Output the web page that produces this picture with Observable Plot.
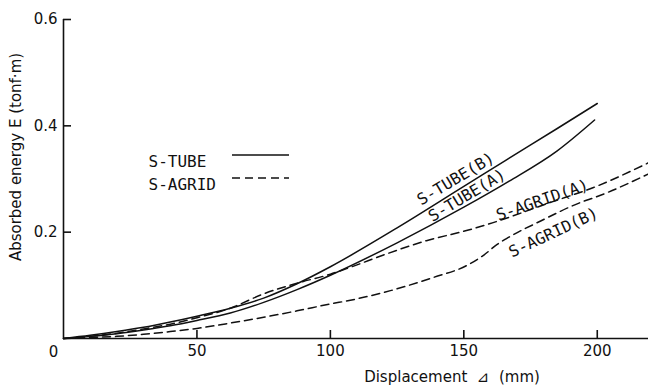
<!DOCTYPE html>
<html><head><meta charset="utf-8">
<script src="https://cdn.jsdelivr.net/npm/d3@7"></script>
<script src="https://cdn.jsdelivr.net/npm/@observablehq/plot@0.6"></script>
<style>body{margin:0;background:#fff}</style>
</head><body><div id="chart"></div>
<script>
// ---- data ----
const tubeB_x = [0, 10, 20, 30, 40, 50, 62.5, 75, 87.5, 100, 125, 150, 166, 185, 200];
const tubeB_y = [0, 0.006, 0.013, 0.021, 0.031, 0.042, 0.057, 0.076, 0.103, 0.135, 0.208, 0.286, 0.336, 0.395, 0.442];

const tubeA_x = [0, 10, 20, 30, 40, 50, 62.5, 75, 87.5, 100, 125, 150, 167, 185, 199];
const tubeA_y = [0, 0.004, 0.009, 0.016, 0.024, 0.034, 0.048, 0.068, 0.092, 0.119, 0.18, 0.247, 0.296, 0.353, 0.411];

const agridA_x = [0, 10, 20, 30, 40, 50, 62.5, 75, 87.5, 100, 107.5, 121, 136, 151, 161, 182.5, 198.6, 219];
const agridA_y = [0, 0.004, 0.01, 0.018, 0.027, 0.039, 0.057, 0.084, 0.104, 0.121, 0.134, 0.159, 0.184, 0.203, 0.218, 0.256, 0.284, 0.33];

const agridB_x = [0, 10, 20, 30, 40, 50, 62.5, 75, 87.5, 100, 107.5, 122.5, 138.7, 151, 157.5, 162.5, 166, 178.8, 193.8, 200, 219];
const agridB_y = [0, 0.002, 0.004, 0.008, 0.013, 0.019, 0.029, 0.04, 0.052, 0.065, 0.072, 0.09, 0.115, 0.137, 0.157, 0.177, 0.188, 0.221, 0.256, 0.267, 0.309];

const xTicks = [50, 100, 150, 200];
const yTicks = [0.2, 0.4, 0.6];
const originLabel = ["0"];

const xTitle = "Displacement  ⊿  (mm)";
const yTitle = "Absorbed energy E (tonf·m)";

const labelNames = ["S-TUBE(B)", "S-TUBE(A)", "S-AGRID(A)", "S-AGRID(B)"];
const labelX = [147.0, 151.2, 179.4, 183.6];
const labelY = [0.300, 0.269, 0.260, 0.199];
const labelAngle = [-31, -31, -19, -25];

const legendNames = ["S-TUBE", "S-AGRID"];
const legendDash = [null, "8,5"];

// ---- build tables ----
const toRows = (xs, ys, series) => xs.map((x, i) => ({x, y: ys[i], series}));
const solid = [...toRows(tubeB_x, tubeB_y, "S-TUBE(B)"), ...toRows(tubeA_x, tubeA_y, "S-TUBE(A)")];
const dashed = [...toRows(agridA_x, agridA_y, "S-AGRID(A)"), ...toRows(agridB_x, agridB_y, "S-AGRID(B)")];
const curveLabels = labelNames.map((name, i) => ({name, x: labelX[i], y: labelY[i], angle: labelAngle[i]}));
const legendItems = legendNames.map((name, i) => ({name, dash: legendDash[i], row: i}));

const ink = "#111";
const W = 648, H = 390, ML = 63, MR = 0, MT = 19, MB = 52;
const xDomain = [0, 219.2], yDomain = [0, 0.6];
const TICK_PX = 8;
// tick length converted from pixels to data units of each scale
const tickLenY = TICK_PX * (yDomain[1] - yDomain[0]) / (H - MT - MB);
const tickLenX = TICK_PX * (xDomain[1] - xDomain[0]) / (W - ML - MR);

function legendLines(index, scales, values, dims) {
  const g = d3.create("svg:g");
  legendItems.forEach((it) => {
    const y = dims.marginTop + 136 + it.row * 23;
    const ln = g.append("line")
      .attr("x1", dims.marginLeft + 169).attr("x2", dims.marginLeft + 226)
      .attr("y1", y).attr("y2", y)
      .attr("stroke", ink).attr("stroke-width", 1.5);
    if (it.dash) ln.attr("stroke-dasharray", it.dash);
  });
  return g.node();
}

const chart = Plot.plot({
  width: W, height: H,
  marginLeft: ML, marginRight: MR, marginTop: MT, marginBottom: MB,
  style: {fontFamily: "DejaVu Sans", fontSize: "15px", color: ink, background: "#fff"},
  x: {domain: xDomain},
  y: {domain: yDomain},
  marks: [
    Plot.axisX(xTicks, {tickSize: 0, tickPadding: 7, label: null, fontSize: 15}),
    Plot.axisY(yTicks, {tickSize: 0, tickPadding: 6, label: null, fontSize: 15, tickFormat: d => d.toFixed(1)}),
    Plot.ruleY([0], {stroke: ink, strokeWidth: 1.6}),
    Plot.ruleX([0], {stroke: ink, strokeWidth: 1.6}),
    Plot.ruleX(xTicks, {x: d => d, y1: () => yDomain[0], y2: () => yDomain[0] + tickLenY, stroke: ink, strokeWidth: 1.6}),
    Plot.ruleY(yTicks, {y: d => d, x1: () => xDomain[0], x2: () => xDomain[0] + tickLenX, stroke: ink, strokeWidth: 1.6}),
    Plot.text(originLabel, {x: () => 0, y: () => 0, text: d => d, dx: -10, dy: 14, fontSize: 15}),
    Plot.line(solid, {x: "x", y: "y", z: "series", stroke: ink, strokeWidth: 1.5, curve: "monotone-x"}),
    Plot.line(dashed, {x: "x", y: "y", z: "series", stroke: ink, strokeWidth: 1.5, strokeDasharray: "8,5", curve: "monotone-x"}),
    Plot.text(curveLabels, {x: "x", y: "y", text: "name", rotate: "angle", fontFamily: "DejaVu Sans Mono", fontSize: 16}),
    Plot.text(legendItems.filter(d => d.row === 0), {frameAnchor: "top-left", text: "name", textAnchor: "start", dx: 85, dy: 136, fontFamily: "DejaVu Sans Mono", fontSize: 16}),
    Plot.text(legendItems.filter(d => d.row === 1), {frameAnchor: "top-left", text: "name", textAnchor: "start", dx: 85, dy: 159, fontFamily: "DejaVu Sans Mono", fontSize: 16}),
    legendLines,
    Plot.text([yTitle], {frameAnchor: "left", text: d => d, rotate: -90, textAnchor: "middle", lineAnchor: "middle", dx: -47, dy: -22, fontSize: 15}),
    Plot.text([xTitle], {frameAnchor: "bottom", text: d => d, textAnchor: "middle", lineAnchor: "middle", dx: 96, dy: 39, fontSize: 15})
  ]
});
document.getElementById("chart").appendChild(chart);
</script>
</body></html>
